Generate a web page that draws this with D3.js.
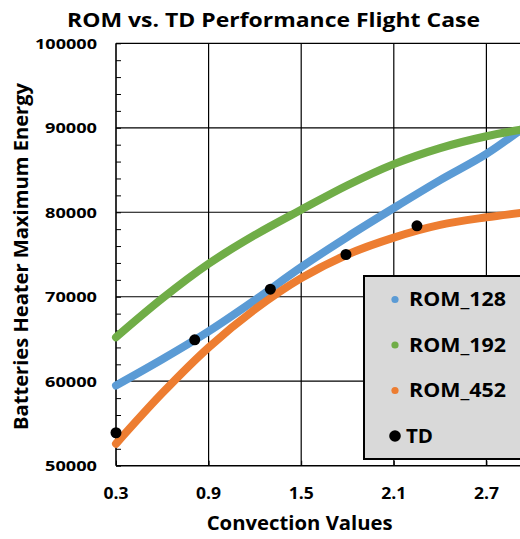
<!DOCTYPE html>
<html><head><meta charset="utf-8">
<script src="https://cdn.jsdelivr.net/npm/d3@7"></script>
<style>body{margin:0;background:#fff}svg{display:block}text{font-family:"Open Sans",sans-serif;font-weight:bold;fill:#000}</style>
</head><body><svg id="c" width="520" height="539"></svg>
<script>
const xValues = [0.3,0.6,0.9,1.2,1.5,1.8,2.1,2.4,2.7,3.0];
const rom128 = [59500,62600,65900,69600,73500,77100,80500,83800,86900,90800];
const rom192 = [65200,69800,73900,77300,80300,83200,85700,87600,89000,90000];
const rom452 = [52600,58600,64000,68500,72200,75000,77000,78500,79400,80100];
const tdX = [0.3,0.81,1.3,1.79,2.25];
const tdY = [53900,64900,70900,75000,78400];
const xTicks = [0.3,0.9,1.5,2.1,2.7,3.3];
const yTicks = [50000,60000,70000,80000,90000,100000];
const seriesNames = ["ROM_128","ROM_192","ROM_452"];
const seriesColors = ["#5b9bd5","#70ad47","#ed7d31"];
const title = "ROM vs. TD Performance Flight Case";
const xTitle = "Convection Values";
const yTitle = "Batteries Heater Maximum Energy";

const svg = d3.select("#c");
const x = d3.scaleLinear().domain([0.3,3.3]).range([116,579]);
const y = d3.scaleLinear().domain([50000,100000]).range([465.7,43.3]);

// gridlines
const grid = svg.append("g");
grid.selectAll(".hg").data(yTicks.slice(1)).join("line")
  .attr("x1",x(0.3)).attr("x2",x(3.3)).attr("y1",d=>y(d)).attr("y2",d=>y(d))
  .attr("stroke","#000").attr("stroke-width",1.2);
grid.selectAll(".vg").data(xTicks.slice(1)).join("line")
  .attr("y1",y(50000)).attr("y2",y(100000)).attr("x1",d=>x(d)).attr("x2",d=>x(d))
  .attr("stroke","#000").attr("stroke-width",1.2);

// axes
svg.append("g").attr("transform",`translate(${x(0.3)},0)`)
  .call(d3.axisRight(y).tickValues(d3.range(50000,100001,2000)).tickSize(5).tickFormat(""));
svg.append("g").attr("transform",`translate(0,${y(50000)})`)
  .call(d3.axisTop(x).tickValues(xTicks).tickSize(5).tickFormat(""));
svg.selectAll(".domain").remove();
svg.append("line").attr("x1",x(0.3)).attr("x2",x(0.3)).attr("y1",y(100000)).attr("y2",y(50000)).attr("stroke","#000").attr("stroke-width",1.6);
svg.append("line").attr("x1",x(0.3)).attr("x2",x(3.3)).attr("y1",y(50000)).attr("y2",y(50000)).attr("stroke","#000").attr("stroke-width",1.6);

// tick labels
svg.append("g").selectAll("text").data(yTicks).join("text")
  .attr("x",97).attr("y",d=>y(d)).attr("dy","0.36em").attr("text-anchor","end")
  .attr("font-size",15).attr("textLength",d=>d>=100000?62:52).attr("lengthAdjust","spacingAndGlyphs").text(d=>d);
svg.append("g").selectAll("text").data(xTicks.slice(0,5)).join("text")
  .attr("x",d=>x(d)).attr("y",499).attr("text-anchor","middle")
  .attr("font-size",16).attr("textLength",25).attr("lengthAdjust","spacingAndGlyphs").text(d=>d3.format(".1f")(d));

// lines
const series = [rom128,rom192,rom452];
const line = d3.line().x((d,i)=>x(xValues[i])).y(d=>y(d)).curve(d3.curveCatmullRom.alpha(0.5));
svg.append("g").selectAll("path").data(series).join("path")
  .attr("d",d=>line(d)).attr("fill","none")
  .attr("stroke",(d,i)=>seriesColors[i]).attr("stroke-width",8)
  .attr("stroke-linecap","round").attr("stroke-linejoin","round");

// TD points
svg.append("g").selectAll("circle").data(tdX).join("circle")
  .attr("cx",d=>x(d)).attr("cy",(d,i)=>y(tdY[i])).attr("r",5.5).attr("fill","#000");

// legend
const lg = svg.append("g");
lg.append("rect").attr("x",364).attr("y",276).attr("width",180).attr("height",183)
  .attr("fill","#d9d9d9").attr("stroke","#000").attr("stroke-width",2);
const legItems = seriesNames.concat(["TD"]);
const legColors = seriesColors.concat(["#000"]);
legItems.forEach((n,i)=>{
  const cy = 299.5 + i*45.5;
  lg.append("circle").attr("cx",395).attr("cy",cy).attr("r",i===3?5.8:3.6).attr("fill",legColors[i]);
  lg.append("text").attr("x",i===3?406:409).attr("y",cy+6.8).attr("font-size",20)
    .attr("textLength",i===3?27:97).attr("lengthAdjust","spacingAndGlyphs").text(n);
});

// titles
svg.append("text").attr("x",273.5).attr("y",27).attr("text-anchor","middle").attr("font-size",20)
  .attr("textLength",413).attr("lengthAdjust","spacingAndGlyphs").text(title);
svg.append("text").attr("x",299.7).attr("y",530).attr("text-anchor","middle").attr("font-size",19)
  .attr("textLength",186).attr("lengthAdjust","spacingAndGlyphs").text(xTitle);
svg.append("text").attr("transform",`translate(28,256.5) rotate(-90)`).attr("text-anchor","middle").attr("font-size",19)
  .attr("textLength",347).attr("lengthAdjust","spacingAndGlyphs").text(yTitle);
</script></body></html>
